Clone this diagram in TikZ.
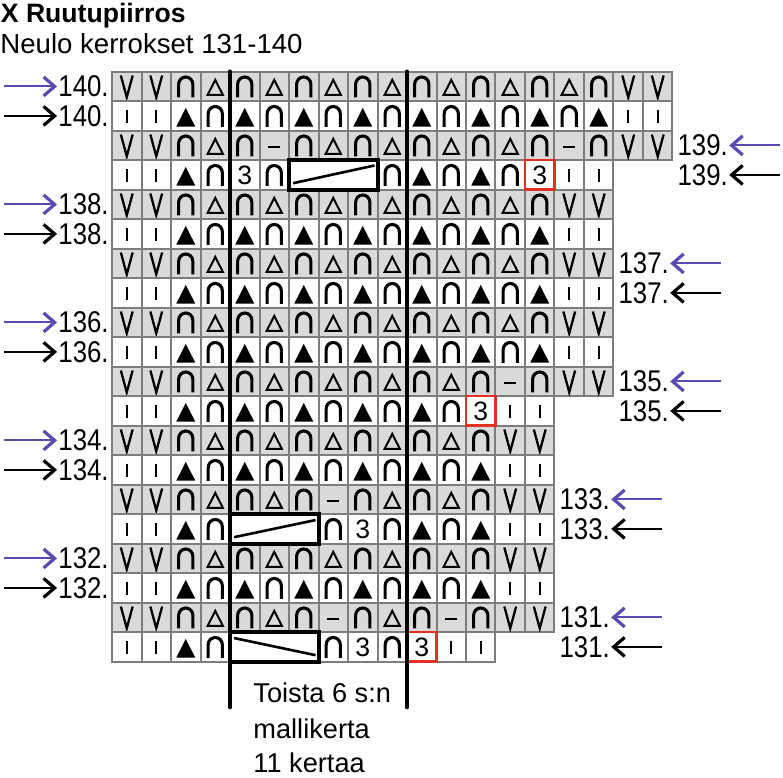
\documentclass[tikz,border=0pt]{standalone}
\usepackage{fontspec}
\setmainfont{Liberation Sans}
\newfontfamily\narrowfont[FakeStretch=0.86]{Liberation Sans}
\usetikzlibrary{arrows.meta}

\definecolor{chartgray}{RGB}{218,218,218}
\definecolor{linegray}{RGB}{125,125,125}
\definecolor{rowblue}{RGB}{88,76,178}
\definecolor{markred}{RGB}{228,48,36}

\tikzset{
  cell/.style={draw=linegray,line width=1pt},
  sym/.style={line width=1pt,line join=miter},
  digit/.style={font=\fontsize{13.3}{15}\selectfont,inner sep=0pt},
  lbl/.style={font=\narrowfont\fontsize{15}{17}\selectfont,inner sep=0pt},
  rowarrow/.style={line width=1pt,shorten >=0.5pt,
    -{Straight Barb[length=5.5pt,width=9.5pt,line width=1.6pt]}},
  pics/kV/.style={code={\draw[sym,line width=1.15pt] (-.2,-.37) -- (0,.37) -- (.2,-.37);}},
  pics/kI/.style={code={\draw[line width=1.1pt] (0,-.2) -- (0,.25);}},
  pics/kn/.style={code={\draw[line width=1.55pt,rounded corners=3.6pt]
    (-.24,.37) -- (-.24,-.32) -- (.24,-.32) -- (.24,.37);}},
  pics/kt/.style={code={\draw[sym] (-.26,.29) -- (0,-.22) -- (.26,.29) -- cycle;}},
  pics/kT/.style={code={\fill (-.32,.36) -- (0,-.27) -- (.32,.36) -- cycle;}},
  pics/kd/.style={code={\draw[sym] (-.2,.05) -- (.2,.05);}},
  pics/k3/.style={code={\node[digit] {3};}},
  pics/kR/.style={code={\node[digit] {3};}},
  pics/kb/.style={code={}},
}

\begin{document}
\begin{tikzpicture}[x=14.75pt,y=-14.75pt]
  \useasboundingbox (-3.797,-2.43) rectangle (22.746,23.94);

  \node[anchor=base west,inner sep=0pt,font=\bfseries\fontsize{13.3}{16}\selectfont]
    (title) at (-3.78,-1.65) {X Ruutupiirros};
  \node[anchor=base west,inner sep=0pt,font=\fontsize{13.8}{16}\selectfont]
    (subtitle) at (-3.797,-0.6) {Neulo kerrokset 131-140};

  % chart rows, top row = 140 (wrong side)
  \foreach \row [count=\r from 0] in {
    {V,V,n,t,n,t,n,t,n,t,n,t,n,t,n,t,n,V,V},
    {I,I,T,n,T,n,T,n,T,n,T,n,T,n,T,n,T,I,I},
    {V,V,n,t,n,d,n,t,n,t,n,t,n,t,n,d,n,V,V},
    {I,I,T,n,3,n,b,b,b,n,T,n,T,n,R,I,I},
    {V,V,n,t,n,t,n,t,n,t,n,t,n,t,n,V,V},
    {I,I,T,n,T,n,T,n,T,n,T,n,T,n,T,I,I},
    {V,V,n,t,n,t,n,t,n,t,n,t,n,t,n,V,V},
    {I,I,T,n,T,n,T,n,T,n,T,n,T,n,T,I,I},
    {V,V,n,t,n,t,n,t,n,t,n,t,n,t,n,V,V},
    {I,I,T,n,T,n,T,n,T,n,T,n,T,n,T,I,I},
    {V,V,n,t,n,t,n,t,n,t,n,t,n,d,n,V,V},
    {I,I,T,n,T,n,T,n,T,n,T,n,R,I,I},
    {V,V,n,t,n,t,n,t,n,t,n,t,n,V,V},
    {I,I,T,n,T,n,T,n,T,n,T,n,T,I,I},
    {V,V,n,t,n,t,n,d,n,t,n,t,n,V,V},
    {I,I,T,n,b,b,b,n,3,n,T,n,T,I,I},
    {V,V,n,t,n,t,n,t,n,t,n,t,n,V,V},
    {I,I,T,n,T,n,T,n,T,n,T,n,T,I,I},
    {V,V,n,t,n,t,n,d,n,t,n,d,n,V,V},
    {I,I,T,n,b,b,b,n,3,n,R,I,I}}{
    \ifodd\r \def\bg{white}\else \def\bg{chartgray}\fi
    \foreach \c [count=\i from 0] in \row {
      \draw[cell,fill=\bg] (\i,\r) rectangle ++(1,1);
      \pic at (\i+.5,\r+.5) {k\c};
    }
  }

  % red marked stitches
  \foreach \x/\y in {14/3,12/11,10/19}
    \draw[markred,line width=1.3pt] (\x,\y) rectangle ++(1,1);

  % repeat
  \draw[line width=2.2pt,line cap=round] (4,0) -- (4,21.54);
  \draw[line width=2.2pt,line cap=round] (10,0) -- (10,21.54);

  % cables
  \foreach \x/\y in {6/3,4/15,4/19}
    \draw[line width=2pt,fill=white] (\x,\y) rectangle ++(3,1);
  \draw[line width=1.3pt] (6.14,3.78) -- (8.9,3.18);
  \draw[line width=1.3pt] (4.14,15.78) -- (6.9,15.2);
  \draw[line width=1.3pt] (4.14,19.2) -- (6.9,19.78);

  % row numbers
  \foreach \n/\r in {140/0,138/4,136/8,134/12,132/16}{
    \node[lbl,anchor=east] (Lp\n) at (-.1,\r+.5) {\n.};
    \node[lbl,anchor=east] (Lk\n) at (-.1,\r+1.5) {\n.};
    \coordinate (Sp\n) at (-3.66,\r+.5);
    \coordinate (Sk\n) at (-3.66,\r+1.5);
    \draw[rowarrow,rowblue] (Sp\n) -- (Lp\n);
    \draw[rowarrow] (Sk\n) -- (Lk\n);
  }
  \foreach \n/\r/\w in {139/2/19,137/6/17,135/10/17,133/14/15,131/18/15}{
    \node[lbl,anchor=west] (Rp\n) at (\w+.16,\r+.5) {\n.};
    \node[lbl,anchor=west] (Rk\n) at (\w+.16,\r+1.5) {\n.};
    \coordinate (Ep\n) at (\w+3.63,\r+.5);
    \coordinate (Ek\n) at (\w+3.63,\r+1.5);
    \draw[rowarrow,rowblue] (Ep\n) -- (Rp\n);
    \draw[rowarrow] (Ek\n) -- (Rk\n);
  }

  \node[anchor=base west,inner sep=0pt,font=\fontsize{13.6}{16}\selectfont]
    (rep1) at (4.78,21.37) {Toista 6 s:n};
  \node[anchor=base west,inner sep=0pt,font=\fontsize{13.6}{16}\selectfont]
    (rep2) at (4.78,22.62) {mallikerta};
  \node[anchor=base west,inner sep=0pt,font=\fontsize{13.6}{16}\selectfont]
    (rep3) at (4.78,23.76) {11 kertaa};
\end{tikzpicture}
\end{document}
